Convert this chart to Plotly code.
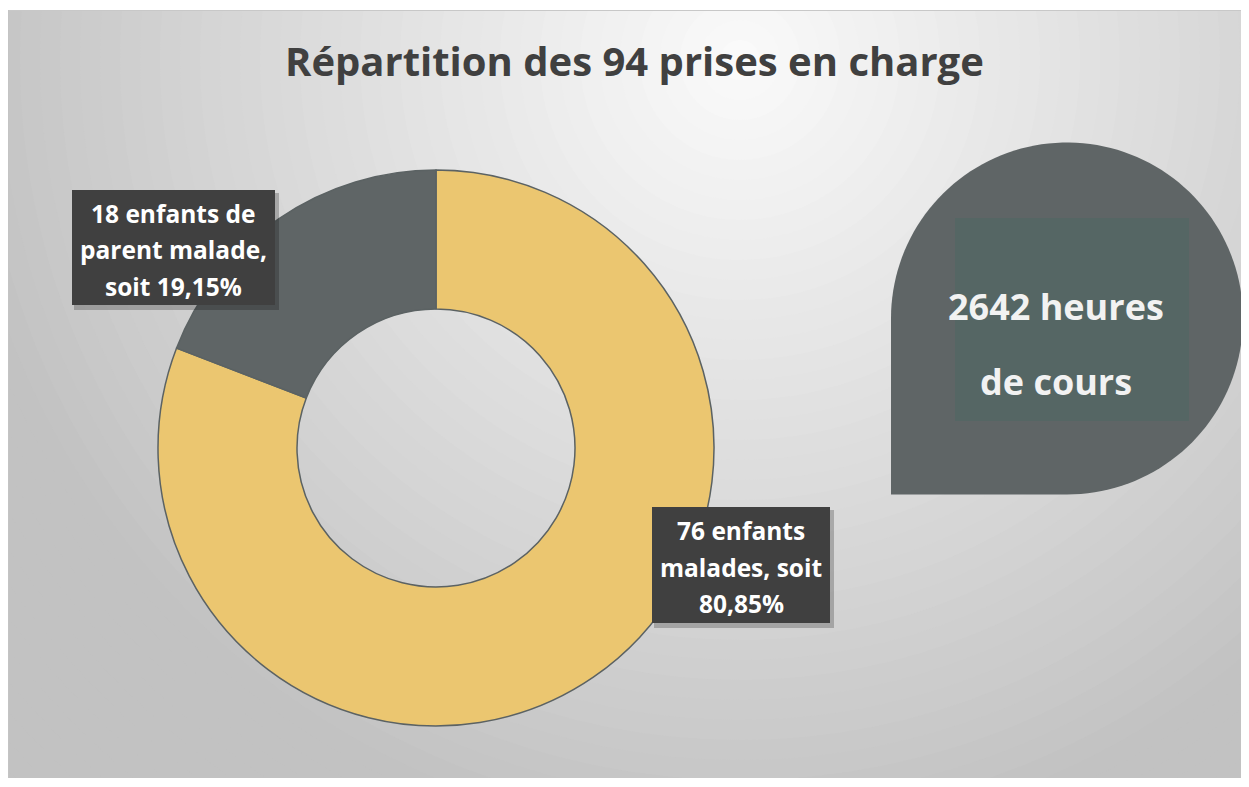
import numpy as np
import plotly.graph_objects as go

# ---- data ----
categories = ["Enfants malades", "Enfants de parent malade"]
counts = [76, 18]
total = 94
slice_colors = ["#EBC670", "#5F6566"]
label_lines = [
    ["76 enfants", "malades, soit", "80,85%"],
    ["18 enfants de", "parent malade,", "soit 19,15%"],
]
title_text = "Répartition des 94 prises en charge"
callout_lines = ["2642 heures", "de cours"]

W, H = 1241, 770          # figure size (page offset by 8px body margin)
X0, Y0 = 8, 8             # page coordinate of figure top-left
FONT = "Open Sans"


def px(x):
    return (x - X0) / W


def py(y):
    return 1 - (y - Y0) / H


fig = go.Figure()

# invisible trace to create page-pixel axes
fig.add_trace(go.Scatter(x=[X0, X0 + W], y=[Y0, Y0 + H], mode="markers",
                         marker=dict(opacity=0), hoverinfo="skip", showlegend=False))

# donut
cx, cy, R = 436, 448, 278
fig.add_trace(go.Pie(
    labels=categories, values=counts, hole=0.5, sort=False,
    direction="clockwise", rotation=0, textinfo="none",
    marker=dict(colors=slice_colors, line=dict(color="#5B6263", width=1.5)),
    domain=dict(x=[px(cx - R), px(cx + R)], y=[py(cy + R), py(cy - R)]),
    showlegend=False, hoverinfo="label+value+percent",
))

shapes = []
# radial background gradient
gcx, gcy = 740, 60
for r in range(1100, 0, -20):
    v = int(round(max(194, 251 - 57 * (r / 800.0))))
    col = f"rgb({v},{v},{v})"
    shapes.append(dict(type="circle", xref="x", yref="y", x0=gcx - r, x1=gcx + r,
                       y0=gcy - r, y1=gcy + r, fillcolor=col, line=dict(width=0),
                       layer="below"))
# white strip above + border
shapes.append(dict(type="rect", xref="x", yref="y", x0=0, x1=1300, y0=0, y1=10,
                   fillcolor="white", line=dict(width=0), layer="below"))
shapes.append(dict(type="line", xref="x", yref="y", x0=8, x1=1300, y0=10.5, y1=10.5,
                   line=dict(color="#C8C8C8", width=1), layer="below"))
shapes.append(dict(type="line", xref="x", yref="y", x0=8.5, x1=8.5, y0=10, y1=800,
                   line=dict(color="#C4C4C4", width=1), layer="below"))

# teardrop callout
tcx, tcy, tr = 1067, 318.5, 176
th = np.linspace(np.pi, 2.5 * np.pi, 120)
pts = [(tcx + tr * np.cos(t), tcy + tr * np.sin(t)) for t in th]
path = "M " + " L ".join(f"{x:.2f},{y:.2f}" for x, y in pts)
path += f" L {tcx - tr:.2f},{tcy + tr:.2f} Z"
shapes.append(dict(type="path", xref="x", yref="y", path=path,
                   fillcolor="#5F6566", line=dict(width=0), layer="above"))
shapes.append(dict(type="rect", xref="x", yref="y", x0=955, x1=1189, y0=218, y1=421,
                   fillcolor="#556664", line=dict(width=0), layer="above"))

# label boxes (shadow + box)
boxes = [(652, 830, 507, 623), (72, 275, 190, 305)]
for (bx0, bx1, by0, by1) in boxes:
    shapes.append(dict(type="rect", xref="x", yref="y", x0=bx0 + 2, x1=bx1 + 4,
                       y0=by0 + 3, y1=by1 + 5, fillcolor="rgba(0,0,0,0.22)",
                       line=dict(width=0), layer="above"))
    shapes.append(dict(type="rect", xref="x", yref="y", x0=bx0, x1=bx1,
                       y0=by0, y1=by1, fillcolor="#404040",
                       line=dict(width=0), layer="above"))

annotations = []
annotations.append(dict(x=634, y=60, xref="x", yref="y", text=f"<b>{title_text}</b>",
                        showarrow=False, font=dict(family=FONT, size=40, color="#404040")))

line_y = [[530, 567, 603], [213, 249, 286]]
line_x = [741, 173]
for k in range(len(categories)):
    for j, t in enumerate(label_lines[k]):
        annotations.append(dict(x=line_x[k], y=line_y[k][j], xref="x", yref="y",
                                text=f"<b>{t}</b>", showarrow=False,
                                font=dict(family=FONT, size=24.5, color="#FFFFFF")))

for j, t in enumerate(callout_lines):
    annotations.append(dict(x=1056, y=[306, 381][j], xref="x", yref="y",
                            text=f"<b>{t}</b>", showarrow=False,
                            font=dict(family=FONT, size=36, color="#F2F2F2")))

fig.update_layout(
    width=W, height=H, margin=dict(l=0, r=0, t=0, b=0),
    paper_bgcolor="white", plot_bgcolor="#C4C4C4",
    xaxis=dict(range=[X0, X0 + W], visible=False, domain=[0, 1], fixedrange=True),
    yaxis=dict(range=[Y0 + H, Y0], visible=False, domain=[0, 1], fixedrange=True),
    shapes=shapes, annotations=annotations, showlegend=False,
)

fig.write_html("out.html")
